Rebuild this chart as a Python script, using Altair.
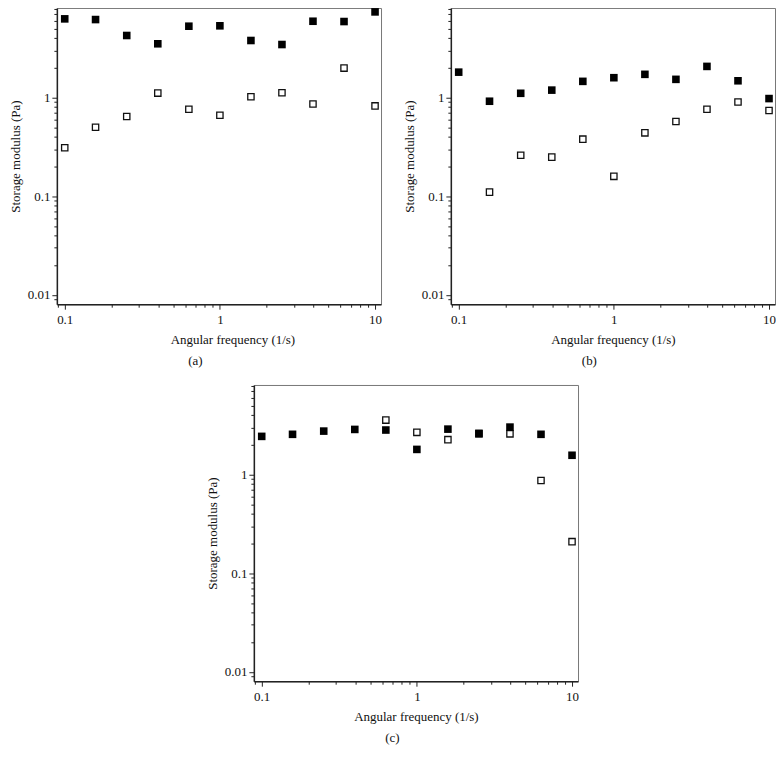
import altair as alt
import pandas as pd

# Angular frequency (1/s)
freq = [0.1, 0.158, 0.251, 0.398, 0.631, 1.0, 1.585, 2.512, 3.981, 6.31, 10.0]

# Storage modulus (Pa), filled and open squares, per panel
a_filled = [6.28, 6.18, 4.26, 3.51, 5.29, 5.34, 3.79, 3.45, 5.94, 5.90, 7.39]
a_open = [0.31, 0.50, 0.643, 1.11, 0.762, 0.663, 1.02, 1.12, 0.862, 1.99, 0.823]

b_filled = [1.81, 0.918, 1.105, 1.19, 1.46, 1.59, 1.72, 1.53, 2.07, 1.48, 0.977]
b_open = [None, 0.110, 0.26, 0.249, 0.379, 0.159, 0.439, 0.572, 0.762, 0.903, 0.739]

c_filled = [2.44, 2.56, 2.76, 2.87, 2.83, 1.80, 2.89, 2.59, 3.03, 2.56, 1.57]
c_open = [None, None, None, None, 3.57, 2.68, 2.26, 2.62, 2.59, 0.87, 0.209]

captions = ["(a)", "(b)", "(c)"]
x_title = "Angular frequency (1/s)"
y_title = "Storage modulus (Pa)"

x_ticks = [0.09, 0.1, 0.2, 0.3, 0.4, 0.5, 0.6, 0.7, 0.8, 0.9,
           1, 2, 3, 4, 5, 6, 7, 8, 9, 10]
y_ticks = [0.008, 0.009, 0.01, 0.02, 0.03, 0.04, 0.05, 0.06, 0.07, 0.08, 0.09,
           0.1, 0.2, 0.3, 0.4, 0.5, 0.6, 0.7, 0.8, 0.9,
           1, 2, 3, 4, 5, 6, 7, 8]

FONT = "Liberation Serif"
MAJOR = "indexof([0.01, 0.1, 1, 10], datum.value) >= 0"
LABEL = ("datum.value == 0.01 ? '0.01' : datum.value == 0.1 ? '0.1' : "
         "datum.value == 1 ? '1' : datum.value == 10 ? '10' : ''")


def frame(vals):
    rows = [{"f": f, "g": g} for f, g in zip(freq, vals) if g is not None]
    return pd.DataFrame(rows)


def common_axis():
    return dict(
        labelExpr=LABEL, labelOverlap=False, labelFlush=False,
        tickSize={"condition": {"test": MAJOR, "value": 5}, "value": 3},
        labelFontSize={"condition": {"test": MAJOR, "value": 13}, "value": 0},
    )


def panel(filled, opened, caption, title_x=None):
    xaxis_kw = dict(title=x_title, values=x_ticks, labelPadding=4, titlePadding=7,
                    **common_axis())
    if title_x is not None:
        xaxis_kw["titleX"] = title_x
    x = alt.X("f:Q", scale=alt.Scale(type="log", domain=[0.089, 10.93], nice=False),
              axis=alt.Axis(**xaxis_kw))
    y = alt.Y("g:Q", scale=alt.Scale(type="log", domain=[0.00804, 8.1], nice=False),
              axis=alt.Axis(title=y_title, values=y_ticks, labelPadding=2,
                            titlePadding=5, **common_axis()))
    open_layer = alt.Chart(frame(opened)).mark_point(
        shape="square", filled=False, stroke="#111", strokeWidth=1.3, size=40, opacity=1
    ).encode(x=x, y=y)
    filled_layer = alt.Chart(frame(filled)).mark_point(
        shape="square", filled=True, color="#000", size=58, opacity=1
    ).encode(x=x, y=y)
    return alt.layer(open_layer, filled_layer).properties(
        width=325, height=297,
        title=alt.TitleParams(caption, orient="bottom", anchor="middle", frame="bounds",
                              font=FONT, fontSize=13, fontWeight="normal", offset=9,
                              color="#111"),
    )


pa = panel(a_filled, a_open, captions[0], title_x=176)
pb = panel(b_filled, b_open, captions[1])
pc = panel(c_filled, c_open, captions[2])

top = alt.hconcat(pa, pb, spacing=20)
chart = alt.vconcat(top, pc, spacing=15, center=True).properties(
    padding={"left": 0, "top": -2, "right": 0, "bottom": 0}
).configure_view(
    stroke="#777", strokeWidth=1
).configure_axis(
    labelFont=FONT, titleFont=FONT, titleFontSize=13,
    titleFontWeight="normal", labelColor="#111", titleColor="#111",
    domainColor="#222", domainWidth=1.5, tickColor="#222", tickWidth=1, grid=False,
)

chart.save("out.html", embed_options={"renderer": "svg", "actions": False})
